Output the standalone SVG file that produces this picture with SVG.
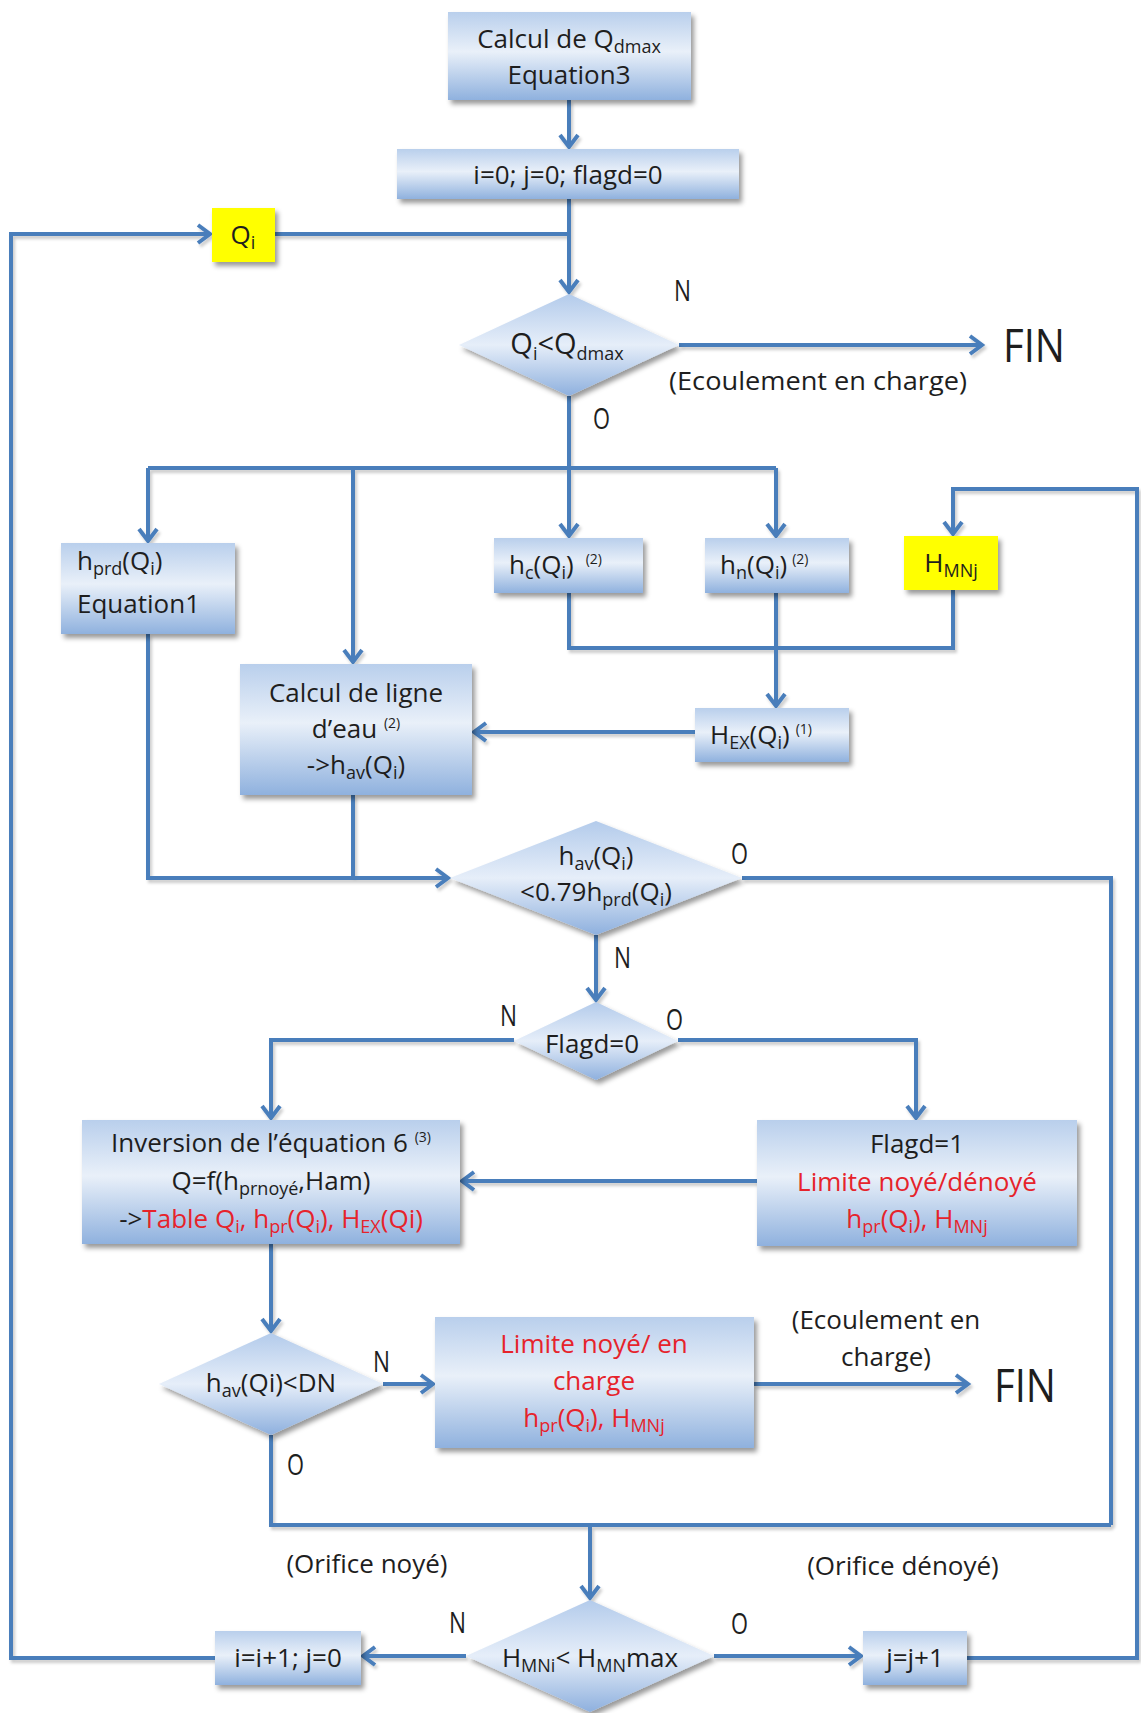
<svg xmlns="http://www.w3.org/2000/svg" width="1141" height="1713" viewBox="0 0 1141 1713">
<defs>
<linearGradient id="gb" x1="0" y1="0" x2="0" y2="1">
<stop offset="0" stop-color="#b9cfec"/>
<stop offset="0.45" stop-color="#e9f0f9"/>
<stop offset="1" stop-color="#8fb1de"/>
</linearGradient>
<linearGradient id="gd" x1="0" y1="0" x2="0" y2="1">
<stop offset="0" stop-color="#b3cbeb"/>
<stop offset="0.5" stop-color="#e6eef9"/>
<stop offset="1" stop-color="#8eb0de"/>
</linearGradient>
<filter id="sh" x="-10%" y="-10%" width="130%" height="140%">
<feDropShadow dx="3" dy="4" stdDeviation="2.5" flood-color="#000" flood-opacity="0.4"/>
</filter>
<filter id="lsh" x="-5%" y="-5%" width="110%" height="110%">
<feDropShadow dx="2" dy="3" stdDeviation="1.5" flood-color="#000" flood-opacity="0.2"/>
</filter>
<marker id="ar" markerUnits="userSpaceOnUse" markerWidth="26" markerHeight="26" refX="15" refY="12" orient="auto">
<path d="M3,3 L15,12 L3,21" fill="none" stroke="#4a7ebb" stroke-width="4" stroke-linejoin="miter"/>
</marker>
</defs>
<style>
.box{fill:url(#gb);filter:url(#sh)}
.dia{fill:url(#gd);filter:url(#sh)}
.yel{fill:#ffff00;filter:url(#sh)}
text{font-family:"Open Sans","Liberation Sans",sans-serif;fill:#1e1e1e;font-size:26px}
.c{text-anchor:middle}
.red{fill:#e6232b}
.lab{font-size:26px}
.no{font-size:30px}
.fin{font-size:46px}
.big{font-size:29px}
.sup{font-size:14px}
.sub{font-size:18px}
.con path,.con line{fill:none;stroke:#4a7ebb;stroke-width:4}
.arr{marker-end:url(#ar)}
</style>

<g class="con" filter="url(#lsh)">
<line class="arr" x1="569" y1="100" x2="569" y2="147"/>
<line class="arr" x1="569" y1="199" x2="569" y2="292"/>
<line x1="275" y1="234" x2="569" y2="234"/>
<line class="arr" x1="679" y1="345" x2="982" y2="345"/>
<line x1="569" y1="396" x2="569" y2="468"/>
<line x1="148" y1="468" x2="776" y2="468"/>
<line class="arr" x1="148" y1="468" x2="148" y2="541"/>
<line class="arr" x1="353" y1="468" x2="353" y2="662"/>
<line class="arr" x1="569" y1="468" x2="569" y2="536"/>
<line class="arr" x1="776" y1="468" x2="776" y2="536"/>
<path d="M569,593 V648 H953 V590"/>
<line class="arr" x1="776" y1="593" x2="776" y2="706"/>
<line class="arr" x1="695" y1="732" x2="474" y2="732"/>
<path class="arr" d="M148,634 V878 H448"/>
<line x1="353" y1="795" x2="353" y2="878"/>
<path d="M742,878 H1111 V1525"/>
<line class="arr" x1="596" y1="935" x2="596" y2="1000"/>
<path class="arr" d="M514,1040 H271 V1118"/>
<path class="arr" d="M678,1040 H916 V1118"/>
<line class="arr" x1="757" y1="1181" x2="462" y2="1181"/>
<line class="arr" x1="271" y1="1244" x2="271" y2="1331"/>
<line class="arr" x1="383" y1="1384" x2="433" y2="1384"/>
<line class="arr" x1="754" y1="1384" x2="968" y2="1384"/>
<path d="M271,1435 V1525 H1111"/>
<line class="arr" x1="590" y1="1525" x2="590" y2="1598"/>
<line class="arr" x1="466" y1="1656" x2="363" y2="1656"/>
<line class="arr" x1="714" y1="1656" x2="861" y2="1656"/>
<path class="arr" d="M967,1658 H1137 V489 H953 V534"/>
<path class="arr" d="M215,1658 H11 V234 H210"/>
</g>

<g id="n-qdmax">
<rect class="box" x="448" y="12" width="243" height="88"/>
<text class="c" x="569" y="48">Calcul de Q<tspan class="sub" dy="5">dmax</tspan></text>
<text class="c" x="569" y="84">Equation3</text>
</g>
<g id="n-init">
<rect class="box" x="397" y="149" width="342" height="50"/>
<text class="c" x="568" y="184">i=0; j=0; flagd=0</text>
</g>
<g id="n-qi">
<rect class="yel" x="212" y="208" width="63" height="54"/>
<text class="c" x="243" y="244">Q<tspan class="sub" dy="5">i</tspan></text>
</g>
<g id="d-qmax">
<polygon class="dia" points="569,294 679,345 569,396 459,345"/>
<text class="c big" x="567" y="354">Q<tspan class="sub" dy="6">i</tspan><tspan dy="-6">&lt;Q</tspan><tspan class="sub" dy="6">dmax</tspan></text>
</g>
<g id="n-hprd">
<rect class="box" x="61" y="543" width="174" height="91"/>
<text x="77" y="570">h<tspan class="sub" dy="5">prd</tspan><tspan dy="-5">(Q</tspan><tspan class="sub" dy="5">i</tspan><tspan dy="-5">)</tspan></text>
<text x="77" y="613">Equation1</text>
</g>
<g id="n-hc">
<rect class="box" x="494" y="538" width="149" height="55"/>
<text x="509" y="574">h<tspan class="sub" dy="5">c</tspan><tspan dy="-5">(Q</tspan><tspan class="sub" dy="5">i</tspan><tspan dy="-5">)</tspan><tspan class="sup" dx="12" dy="-10">(2)</tspan></text>
</g>
<g id="n-hn">
<rect class="box" x="705" y="538" width="144" height="55"/>
<text x="720" y="574">h<tspan class="sub" dy="5">n</tspan><tspan dy="-5">(Q</tspan><tspan class="sub" dy="5">i</tspan><tspan dy="-5">)</tspan><tspan class="sup" dx="5" dy="-10">(2)</tspan></text>
</g>
<g id="n-hmnj">
<rect class="yel" x="904" y="536" width="94" height="54"/>
<text class="c" x="951" y="572">H<tspan class="sub" dy="5">MNj</tspan></text>
</g>
<g id="n-hex">
<rect class="box" x="695" y="708" width="154" height="54"/>
<text x="710" y="744">H<tspan class="sub" dy="5">EX</tspan><tspan dy="-5">(Q</tspan><tspan class="sub" dy="5">i</tspan><tspan dy="-5">)</tspan><tspan class="sup" dx="6" dy="-10">(1)</tspan></text>
</g>
<g id="n-ligne">
<rect class="box" x="240" y="664" width="232" height="131"/>
<text class="c" x="356" y="702">Calcul de ligne</text>
<text class="c" x="356" y="738">d’eau <tspan class="sup" dy="-10">(2)</tspan></text>
<text class="c" x="356" y="774">-&gt;h<tspan class="sub" dy="5">av</tspan><tspan dy="-5">(Q</tspan><tspan class="sub" dy="5">i</tspan><tspan dy="-5">)</tspan></text>
</g>
<g id="d-hav">
<polygon class="dia" points="596,821 742,878 596,935 450,878"/>
<text class="c" x="596" y="865">h<tspan class="sub" dy="5">av</tspan><tspan dy="-5">(Q</tspan><tspan class="sub" dy="5">i</tspan><tspan dy="-5">)</tspan></text>
<text class="c" x="596" y="901">&lt;0.79h<tspan class="sub" dy="5">prd</tspan><tspan dy="-5">(Q</tspan><tspan class="sub" dy="5">i</tspan><tspan dy="-5">)</tspan></text>
</g>
<g id="d-flagd">
<polygon class="dia" points="596,1002 678,1041 596,1080 514,1041"/>
<text class="c" x="592" y="1053">Flagd=0</text>
</g>
<g id="n-inversion">
<rect class="box" x="82" y="1120" width="378" height="124"/>
<text class="c" x="271" y="1152">Inversion de l’équation 6 <tspan class="sup" dy="-10">(3)</tspan></text>
<text class="c" x="271" y="1190">Q=f(h<tspan class="sub" dy="5">prnoyé</tspan><tspan dy="-5">,Ham)</tspan></text>
<text class="c" x="271" y="1228">-&gt;<tspan class="red">Table  Q<tspan class="sub" dy="5">i</tspan><tspan dy="-5">, h</tspan><tspan class="sub" dy="5">pr</tspan><tspan dy="-5">(Q</tspan><tspan class="sub" dy="5">i</tspan><tspan dy="-5">), H</tspan><tspan class="sub" dy="5">EX</tspan><tspan dy="-5">(Qi)</tspan></tspan></text>
</g>
<g id="n-flagd1">
<rect class="box" x="757" y="1120" width="320" height="126"/>
<text class="c" x="917" y="1153">Flagd=1</text>
<text class="c red" x="917" y="1191">Limite noyé/dénoyé</text>
<text class="c red" x="917" y="1228">h<tspan class="sub" dy="5">pr</tspan><tspan dy="-5">(Q</tspan><tspan class="sub" dy="5">i</tspan><tspan dy="-5">), H</tspan><tspan class="sub" dy="5">MNj</tspan></text>
</g>
<g id="d-dn">
<polygon class="dia" points="271,1333 383,1384 271,1435 159,1384"/>
<text class="c" x="271" y="1392">h<tspan class="sub" dy="5">av</tspan><tspan dy="-5">(Qi)&lt;DN</tspan></text>
</g>
<g id="n-limite">
<rect class="box" x="435" y="1317" width="319" height="131"/>
<text class="c red" x="594" y="1353">Limite noyé/ en</text>
<text class="c red" x="594" y="1390">charge</text>
<text class="c red" x="594" y="1427">h<tspan class="sub" dy="5">pr</tspan><tspan dy="-5">(Q</tspan><tspan class="sub" dy="5">i</tspan><tspan dy="-5">), H</tspan><tspan class="sub" dy="5">MNj</tspan></text>
</g>
<g id="d-hmn">
<polygon class="dia" points="590,1600 714,1656 590,1712 466,1656"/>
<text class="c" x="590" y="1667">H<tspan class="sub" dy="5">MNi</tspan><tspan dy="-5">&lt; H</tspan><tspan class="sub" dy="5">MN</tspan><tspan dy="-5">max</tspan></text>
</g>
<g id="n-inc-i">
<rect class="box" x="215" y="1631" width="146" height="54"/>
<text class="c" x="288" y="1667">i=i+1; j=0</text>
</g>
<g id="n-inc-j">
<rect class="box" x="863" y="1631" width="104" height="54"/>
<text class="c" x="915" y="1667">j=j+1</text>
</g>

<g id="labels">
<text class="no" x="674" y="301" textLength="17" lengthAdjust="spacingAndGlyphs">N</text>
<text class="no" x="593" y="429" textLength="17" lengthAdjust="spacingAndGlyphs">O</text>
<text class="fin" x="1003" y="362" textLength="62" lengthAdjust="spacingAndGlyphs">FIN</text>
<text class="lab" x="669" y="390" textLength="298" lengthAdjust="spacingAndGlyphs">(Ecoulement en charge)</text>
<text class="no" x="731" y="864" textLength="17" lengthAdjust="spacingAndGlyphs">O</text>
<text class="no" x="614" y="968" textLength="17" lengthAdjust="spacingAndGlyphs">N</text>
<text class="no" x="500" y="1026" textLength="17" lengthAdjust="spacingAndGlyphs">N</text>
<text class="no" x="666" y="1030" textLength="17" lengthAdjust="spacingAndGlyphs">O</text>
<text class="lab c" x="886" y="1329">(Ecoulement en</text>
<text class="lab c" x="886" y="1366">charge)</text>
<text class="fin" x="994" y="1402" textLength="62" lengthAdjust="spacingAndGlyphs">FIN</text>
<text class="no" x="373" y="1372" textLength="17" lengthAdjust="spacingAndGlyphs">N</text>
<text class="no" x="287" y="1475" textLength="17" lengthAdjust="spacingAndGlyphs">O</text>
<text class="lab c" x="367" y="1573">(Orifice noyé)</text>
<text class="lab c" x="903" y="1575">(Orifice dénoyé)</text>
<text class="no" x="449" y="1633" textLength="17" lengthAdjust="spacingAndGlyphs">N</text>
<text class="no" x="731" y="1634" textLength="17" lengthAdjust="spacingAndGlyphs">O</text>
</g>
</svg>
